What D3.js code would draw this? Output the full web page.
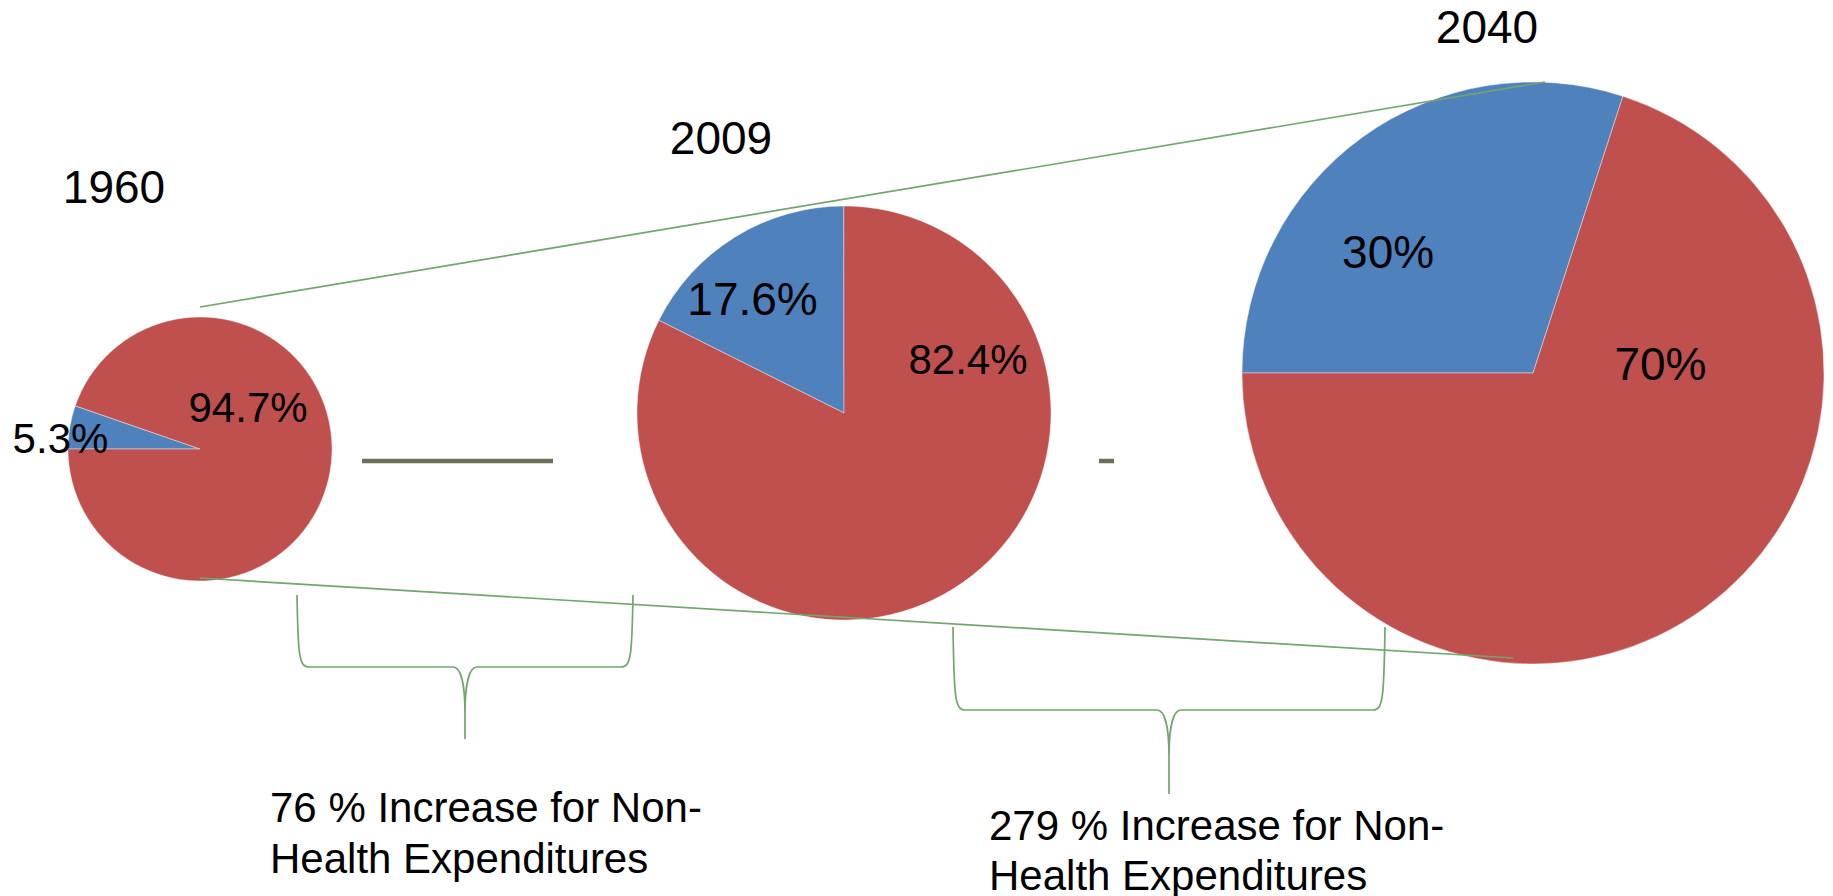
<!DOCTYPE html>
<html>
<head>
<meta charset="utf-8">
<script src="https://cdn.jsdelivr.net/npm/d3@7"></script>
<style>
  html, body { margin: 0; padding: 0; background: #fff; }
  svg { display: block; font-family: "Liberation Sans", Arial, sans-serif; }
</style>
</head>
<body>
<div id="chart"></div>
<script>
// chart data
const years = ["1960", "2009", "2040"];
const healthShare = [5.3, 17.6, 30];
const otherShare = [94.7, 82.4, 70];
const sliceNames = ["Health", "Non-Health"];
const increaseText = [
  ["76 % Increase for Non-", "Health Expenditures"],
  ["279 % Increase for Non-", "Health Expenditures"]
];

const width = 1833, height = 896;
const green = "#72a56f";

let color = d3.scaleOrdinal()
  .domain(sliceNames)
  .range(["#4f81bd", "#c0504d"]);

// where each pie sits on the slide; label offsets are fractions of the radius
const pieLayout = [
  { cx: 200, cy: 449, r: 132, rot: -90, title: [-86, -246],
    labels: [[-1.057, 0.03, 42], [0.364, -0.205, 42]] },
  { cx: 844, cy: 413, r: 207, rot: -63.4, title: [-123, -259],
    labels: [[-0.442, -0.473, 46], [0.599, -0.188, 42]] },
  { cx: 1533, cy: 373, r: 291, rot: -90, title: [-46, -330],
    labels: [[-0.498, -0.361, 46], [0.438, 0.024, 46]] }
];

const braceLayout = [
  { x0: 297, x1: 633, top: 595, mid: 667, tip: 739, cx: 465, tx: 270, ty: 822, lh: 51 },
  { x0: 953, x1: 1385, top: 627, mid: 710, tip: 794, cx: 1169, tx: 989, ty: 840, lh: 50 }
];

let svg = d3.select("#chart")
  .append("svg")
  .attr("width", width)
  .attr("height", height);

// connector lines from the small pie to the big one
let p1 = pieLayout[0], p3 = pieLayout[2];
let connectors = [
  [[p1.cx, p1.cy - p1.r - 10], [p3.cx + 12, p3.cy - p3.r]],
  [[p1.cx, p1.cy + p1.r - 3], [p3.cx - 20, p3.cy + p3.r - 6]]
];

// the short grey strokes between the pies
svg.append("g")
  .selectAll("line")
  .data([[362, 553], [1099, 1114]])
  .enter()
  .append("line")
  .attr("x1", d => d[0])
  .attr("x2", d => d[1])
  .attr("y1", 461)
  .attr("y2", 461)
  .attr("stroke", "#6b6e58")
  .attr("stroke-width", 4.5);

let pie = d3.pie()
  .sort(null)
  .value(d => d.value);

years.forEach(function(year, i) {
  let lay = pieLayout[i];
  let data = [
    { name: sliceNames[0], value: healthShare[i] },
    { name: sliceNames[1], value: otherShare[i] }
  ];
  let start = lay.rot * Math.PI / 180;
  pie.startAngle(start).endAngle(start + 2 * Math.PI);

  let arc = d3.arc()
    .innerRadius(0)
    .outerRadius(lay.r);

  let g = svg.append("g")
    .attr("class", "pie")
    .attr("transform", "translate(" + lay.cx + "," + lay.cy + ")");

  g.selectAll("path.slice")
    .data(pie(data))
    .enter()
    .append("path")
    .attr("class", "slice")
    .attr("d", arc)
    .attr("fill", d => color(d.data.name))
    .attr("stroke", "#fff")
    .attr("stroke-opacity", 0.5)
    .attr("stroke-width", 0.8);

  g.selectAll("text.value")
    .data(pie(data))
    .enter()
    .append("text")
    .attr("class", "value")
    .attr("x", (d, j) => lay.labels[j][0] * lay.r)
    .attr("y", (d, j) => lay.labels[j][1] * lay.r)
    .attr("text-anchor", "middle")
    .attr("font-size", (d, j) => lay.labels[j][2])
    .attr("fill", "#000")
    .text(d => d.data.value + "%");

  g.append("text")
    .attr("x", lay.title[0])
    .attr("y", lay.title[1])
    .attr("text-anchor", "middle")
    .attr("font-size", 46)
    .attr("fill", "#000")
    .text(year);
});

svg.append("g")
  .selectAll("line")
  .data(connectors)
  .enter()
  .append("line")
  .attr("x1", d => d[0][0])
  .attr("y1", d => d[0][1])
  .attr("x2", d => d[1][0])
  .attr("y2", d => d[1][1])
  .attr("stroke", green)
  .attr("stroke-width", 1.7);

function bracePath(b) {
  let k = 12;
  return "M" + b.x0 + "," + b.top +
    " C" + (b.x0 + 1) + "," + (b.mid - 12) + " " + (b.x0 + 2) + "," + b.mid + " " + (b.x0 + k) + "," + b.mid +
    " L" + (b.cx - 12) + "," + b.mid +
    " C" + (b.cx - 4) + "," + b.mid + " " + b.cx + "," + (b.mid + 18) + " " + b.cx + "," + (b.mid + 46) +
    " L" + b.cx + "," + b.tip +
    " M" + b.x1 + "," + b.top +
    " C" + (b.x1 - 1) + "," + (b.mid - 12) + " " + (b.x1 - 2) + "," + b.mid + " " + (b.x1 - k) + "," + b.mid +
    " L" + (b.cx + 12) + "," + b.mid +
    " C" + (b.cx + 4) + "," + b.mid + " " + b.cx + "," + (b.mid + 18) + " " + b.cx + "," + (b.mid + 46);
}

let notes = svg.append("g").attr("class", "notes");

notes.selectAll("path")
  .data(braceLayout)
  .enter()
  .append("path")
  .attr("d", bracePath)
  .attr("fill", "none")
  .attr("stroke", green)
  .attr("stroke-width", 1.7);

notes.selectAll("text")
  .data(braceLayout)
  .enter()
  .append("text")
  .attr("font-size", 42)
  .attr("fill", "#000")
  .each(function(b, i) {
    d3.select(this).selectAll("tspan")
      .data(increaseText[i])
      .enter()
      .append("tspan")
      .attr("x", b.tx)
      .attr("y", (t, j) => b.ty + j * b.lh)
      .text(t => t);
  });
</script>
</body>
</html>
